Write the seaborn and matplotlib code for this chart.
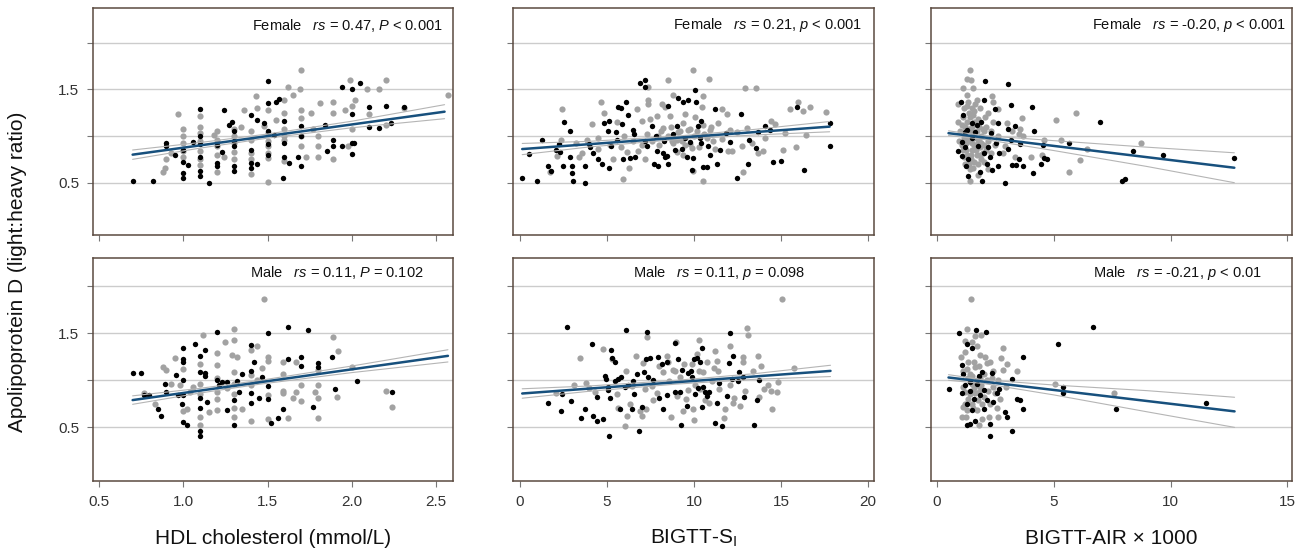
import numpy as np
import pandas as pd
import seaborn as sns
import matplotlib.pyplot as plt

sns.set_style("white")
plt.rcParams['font.family'] = ['Liberation Sans', 'DejaVu Sans']
plt.rcParams['mathtext.fontset'] = 'custom'
plt.rcParams['mathtext.rm'] = 'Liberation Sans'
plt.rcParams['mathtext.it'] = 'Liberation Sans:italic'

# ---- data: (x, ratio) pairs, black and grey groups ----
hdl_f_blk = [(0.70, 0.52), (0.82, 0.52), (0.90, 0.93), (0.90, 0.89), (0.95, 0.80), (1.0, 0.60), (1.0, 0.55),
             (1.0, 0.72), (1.03, 0.69), (1.06, 0.94), (1.1, 1.29), (1.1, 0.91), (1.1, 0.78), (1.1, 0.62),
             (1.1, 0.57), (1.15, 0.50), (1.2, 0.71), (1.2, 0.68), (1.24, 1.28), (1.23, 0.83), (1.27, 1.12),
             (1.29, 1.15), (1.3, 0.89), (1.3, 0.68), (1.3, 0.63), (1.4, 1.22), (1.4, 0.71), (1.4, 0.66),
             (1.44, 1.17), (1.44, 0.70), (1.48, 1.14), (1.5, 1.59), (1.5, 1.35), (1.5, 0.91), (1.54, 1.01),
             (1.55, 1.36), (1.57, 1.40), (1.59, 0.55), (1.6, 0.78), (1.6, 1.16), (1.63, 0.71), (1.68, 0.78),
             (1.7, 0.68), (1.7, 1.11), (1.84, 1.12), (1.85, 0.84), (1.89, 0.96), (1.89, 0.89), (1.94, 1.52),
             (1.94, 0.89), (2.0, 1.50), (2.0, 1.23), (2.0, 0.93), (2.0, 0.81), (2.01, 0.92), (2.05, 1.57),
             (2.1, 1.31), (2.1, 1.10), (2.16, 1.09), (2.2, 1.32), (2.23, 1.14), (2.31, 1.31), (1.2, 0.90),
             (1.3, 0.95), (1.4, 0.85), (1.5, 1.05), (1.6, 0.92), (1.1, 1.0), (1.0, 0.85), (1.7, 1.0),
             (1.3, 1.05), (1.5, 0.80)]
hdl_f_gry = [(0.97, 1.23), (0.88, 0.61), (0.89, 0.66), (0.9, 0.75), (0.93, 0.82), (1.0, 1.07), (1.0, 0.93),
             (1.0, 0.84), (1.0, 0.78), (1.1, 1.21), (1.1, 1.10), (1.1, 1.03), (1.1, 0.84), (1.1, 0.75),
             (1.1, 0.69), (1.18, 1.01), (1.2, 0.96), (1.2, 0.89), (1.2, 0.61), (1.24, 0.78), (1.3, 1.07),
             (1.3, 1.0), (1.3, 0.83), (1.34, 1.10), (1.36, 1.28), (1.4, 0.96), (1.4, 0.82), (1.4, 0.59),
             (1.43, 1.43), (1.44, 1.30), (1.48, 1.11), (1.5, 1.28), (1.5, 1.03), (1.5, 0.89), (1.5, 0.82),
             (1.5, 0.76), (1.5, 0.51), (1.55, 1.17), (1.6, 1.39), (1.6, 1.25), (1.6, 1.07), (1.6, 0.96),
             (1.6, 0.73), (1.62, 1.52), (1.65, 1.44), (1.69, 1.50), (1.7, 1.71), (1.7, 1.28), (1.7, 1.19),
             (1.7, 1.0), (1.7, 0.89), (1.73, 0.78), (1.76, 1.25), (1.77, 1.07), (1.8, 1.0), (1.8, 0.89),
             (1.81, 1.35), (1.89, 1.36), (1.89, 1.25), (1.89, 0.75), (1.96, 1.28), (1.99, 1.60), (2.0, 1.32),
             (2.0, 1.08), (1.98, 0.89), (2.09, 1.50), (2.1, 1.23), (2.16, 1.50), (2.2, 1.60), (2.2, 1.12),
             (2.31, 1.30), (2.57, 1.44), (1.8, 0.78), (2.02, 1.39), (1.2, 1.05), (1.3, 0.92), (1.4, 1.05),
             (1.5, 0.95), (1.6, 1.0), (1.1, 0.95), (1.0, 1.0), (1.4, 0.75), (1.3, 0.75), (1.2, 0.80)]

hdl_m_blk = [(0.70, 1.08), (0.75, 1.08), (0.77, 0.84), (0.8, 0.84), (0.85, 0.70), (0.87, 0.62), (0.89, 0.96),
             (0.9, 0.88), (0.96, 1.06), (0.97, 0.84), (0.99, 0.75), (1.0, 1.34), (1.0, 1.23), (1.0, 1.19),
             (1.0, 1.0), (1.0, 0.84), (1.0, 0.56), (1.02, 0.52), (1.07, 1.39), (1.1, 1.26), (1.1, 1.09),
             (1.1, 0.81), (1.1, 0.71), (1.1, 0.46), (1.1, 0.41), (1.13, 1.32), (1.13, 1.08), (1.13, 1.05),
             (1.14, 0.77), (1.2, 1.51), (1.2, 1.0), (1.21, 0.95), (1.23, 0.98), (1.26, 0.68), (1.26, 0.98),
             (1.3, 0.79), (1.3, 0.53), (1.32, 0.99), (1.33, 0.88), (1.35, 1.07), (1.4, 1.38), (1.4, 1.10),
             (1.4, 0.87), (1.4, 0.76), (1.42, 1.20), (1.45, 0.81), (1.47, 1.04), (1.5, 1.50), (1.5, 0.94),
             (1.5, 0.80), (1.52, 0.55), (1.56, 0.60), (1.59, 0.69), (1.62, 1.57), (1.62, 1.23), (1.7, 1.25),
             (1.7, 1.15), (1.74, 1.54), (1.77, 0.72), (1.8, 1.18), (1.8, 1.14), (1.88, 1.25), (1.9, 0.91),
             (2.03, 0.99), (2.24, 0.88)]
hdl_m_gry = [(0.77, 0.86), (0.83, 0.75), (0.88, 1.14), (0.9, 1.11), (0.93, 0.96), (0.95, 1.24), (0.98, 0.95),
             (1.0, 1.12), (1.0, 0.67), (1.02, 0.69), (1.04, 0.88), (1.06, 0.93), (1.12, 1.48), (1.1, 1.17),
             (1.1, 0.96), (1.1, 0.61), (1.1, 0.52), (1.15, 0.66), (1.2, 1.29), (1.2, 1.16), (1.2, 0.88),
             (1.2, 0.80), (1.2, 0.68), (1.25, 1.41), (1.26, 0.92), (1.29, 1.27), (1.3, 1.55), (1.3, 1.43),
             (1.3, 1.09), (1.3, 0.96), (1.3, 0.71), (1.3, 0.61), (1.32, 1.25), (1.35, 0.70), (1.4, 1.32),
             (1.4, 1.06), (1.4, 0.57), (1.44, 1.36), (1.44, 1.0), (1.47, 1.13), (1.48, 1.86), (1.5, 1.25),
             (1.5, 1.21), (1.5, 0.84), (1.5, 0.59), (1.59, 1.20), (1.59, 1.07), (1.59, 0.89), (1.59, 0.86),
             (1.62, 0.60), (1.65, 0.81), (1.67, 1.20), (1.67, 0.88), (1.7, 0.95), (1.7, 0.78), (1.78, 0.88),
             (1.8, 0.95), (1.8, 0.81), (1.8, 0.60), (1.8, 1.11), (1.89, 1.46), (1.91, 0.82), (1.92, 1.31),
             (2.0, 1.14), (2.2, 0.89), (2.24, 0.72), (1.2, 1.02), (1.3, 0.85), (1.4, 0.95), (1.1, 0.85)]

si_f_blk = [(0.13, 0.55), (1.0, 0.52), (1.28, 0.96), (0.52, 0.81), (1.59, 0.68), (1.76, 0.62), (2.05, 0.85),
            (2.24, 0.91), (2.3, 0.83), (2.49, 0.68), (2.53, 1.15), (2.87, 1.05), (2.87, 0.78), (2.97, 0.68),
            (3.0, 0.60), (3.07, 0.52), (3.74, 0.50), (3.74, 0.68), (3.97, 0.91), (4.02, 0.88), (4.21, 0.82),
            (4.46, 0.75), (4.69, 0.70), (4.83, 1.14), (5.04, 1.05), (5.13, 1.16), (5.13, 0.66), (5.23, 0.89),
            (5.52, 1.04), (5.56, 0.96), (5.65, 1.31), (5.79, 1.30), (5.84, 1.13), (5.94, 0.75), (6.09, 1.36),
            (6.23, 1.22), (6.32, 0.76), (6.51, 1.06), (6.55, 1.02), (6.61, 0.78), (6.9, 1.57), (7.18, 1.60),
            (7.18, 1.52), (7.18, 0.95), (7.28, 0.89), (7.57, 1.11), (7.72, 0.70), (7.85, 0.84), (7.95, 0.68),
            (8.24, 0.82), (8.33, 0.77), (8.43, 0.79), (8.52, 0.70), (8.52, 1.32), (8.81, 1.02), (9.0, 1.11),
            (9.1, 1.41), (9.29, 0.86), (9.35, 1.36), (9.48, 0.98), (9.67, 1.39), (9.77, 0.94), (9.87, 0.64),
            (9.96, 0.76), (10.06, 1.49), (10.1, 1.36), (10.25, 1.11), (10.34, 0.98), (10.38, 1.16),
            (10.5, 0.67), (10.73, 0.67), (10.82, 0.89), (10.92, 0.80), (11.2, 1.29), (11.3, 0.70),
            (11.84, 1.03), (12.07, 0.94), (12.45, 0.55), (12.7, 1.23), (13.08, 0.70), (13.18, 0.96),
            (13.56, 0.87), (13.7, 1.04), (14.08, 1.11), (14.37, 1.06), (14.56, 0.72), (15.0, 0.73),
            (15.9, 1.31), (16.32, 0.64), (17.8, 1.14), (17.8, 0.89), (8.9, 0.85), (9.6, 0.78), (10.4, 0.92),
            (7.8, 1.0), (8.3, 0.95), (11.5, 0.85)]
si_f_gry = [(1.72, 0.61), (2.43, 1.29), (2.34, 0.96), (2.11, 0.79), (3.41, 0.78), (3.54, 0.82), (3.83, 0.96),
            (4.12, 1.13), (4.5, 0.86), (4.63, 1.36), (4.85, 1.25), (5.17, 0.90), (5.36, 0.75), (5.56, 1.15),
            (5.94, 0.54), (6.13, 0.83), (6.28, 0.66), (6.7, 1.29), (6.8, 0.84), (6.99, 1.16), (7.18, 0.75),
            (7.38, 1.52), (7.38, 1.38), (7.38, 1.34), (7.47, 1.18), (7.85, 1.21), (7.95, 1.0), (8.14, 1.34),
            (8.24, 1.09), (8.33, 1.31), (8.52, 1.60), (8.62, 1.21), (8.72, 0.95), (8.81, 1.44), (9.0, 0.83),
            (9.1, 1.04), (9.39, 1.14), (9.48, 1.24), (9.67, 1.06), (9.77, 0.91), (9.92, 1.71), (9.92, 0.62),
            (10.06, 1.20), (10.15, 1.05), (10.44, 1.31), (10.54, 1.43), (10.54, 0.52), (10.73, 0.98),
            (10.88, 1.61), (11.0, 1.10), (11.2, 0.86), (11.39, 1.14), (11.59, 1.29), (11.88, 1.24),
            (12.07, 1.06), (12.16, 0.84), (12.45, 1.04), (12.74, 0.89), (12.93, 1.51), (13.07, 1.09),
            (13.32, 0.93), (13.56, 1.51), (13.7, 0.82), (14.08, 0.98), (14.41, 1.16), (14.66, 1.13),
            (15.13, 0.85), (15.23, 1.03), (15.52, 1.29), (15.86, 0.88), (16.0, 1.36), (16.28, 1.27),
            (16.47, 1.01), (16.7, 1.31), (17.59, 1.26), (12.84, 0.61), (11.97, 0.84), (13.98, 0.84),
            (8.5, 1.0), (8.8, 0.92), (9.2, 1.05), (9.5, 0.9), (10.0, 1.0), (10.3, 0.88), (9.0, 0.96),
            (8.0, 0.9), (7.6, 0.95), (10.6, 1.02), (11.1, 0.95), (9.8, 1.08), (7.0, 0.9), (6.5, 0.95),
            (5.8, 0.88), (4.5, 0.98), (3.2, 0.92), (8.7, 1.1), (9.3, 0.95), (9.9, 0.87), (10.5, 1.12),
            (8.1, 1.05), (7.3, 1.02), (6.0, 1.0), (10.9, 1.06), (11.6, 0.97), (9.4, 0.8)]

si_m_blk = [(1.63, 0.76), (2.36, 0.67), (2.39, 0.85), (2.72, 1.57), (2.93, 0.78), (3.51, 0.60), (3.74, 0.69),
            (4.16, 1.39), (4.21, 0.62), (4.41, 0.82), (4.41, 0.57), (4.75, 0.59), (4.89, 1.05), (4.94, 1.01),
            (5.08, 0.93), (5.08, 0.90), (5.12, 0.41), (5.17, 0.81), (5.21, 1.32), (5.27, 1.24), (5.46, 1.19),
            (5.46, 0.99), (5.65, 1.01), (5.75, 0.69), (5.8, 1.03), (6.03, 0.93), (6.11, 1.53), (6.23, 0.95),
            (6.42, 0.69), (6.51, 0.99), (6.55, 0.85), (6.7, 1.07), (6.84, 0.46), (6.99, 0.72), (7.13, 1.09),
            (7.24, 1.23), (7.28, 1.51), (7.37, 1.04), (7.47, 1.24), (7.62, 1.0), (7.95, 1.25), (8.0, 0.81),
            (8.14, 1.17), (8.24, 0.69), (8.43, 1.20), (8.47, 0.84), (8.91, 1.40), (8.91, 0.88), (9.1, 1.23),
            (9.2, 0.88), (9.23, 0.53), (9.29, 1.11), (9.58, 0.73), (9.67, 1.08), (9.81, 1.10), (9.87, 1.03),
            (10.02, 1.23), (10.06, 0.85), (10.15, 1.24), (10.25, 0.92), (10.34, 1.19), (10.44, 1.34),
            (10.44, 0.72), (10.54, 0.93), (10.63, 0.88), (10.73, 0.83), (10.88, 0.88), (11.2, 0.55),
            (11.3, 0.76), (11.44, 0.97), (11.63, 0.51), (11.9, 0.83), (12.0, 1.18), (12.1, 1.50),
            (12.16, 1.01), (12.22, 1.26), (12.55, 0.99), (12.6, 1.09), (12.8, 1.03), (12.9, 0.82),
            (13.47, 0.53), (13.6, 0.79), (13.75, 1.0)]
si_m_gry = [(2.05, 0.86), (3.12, 0.95), (3.45, 1.24), (3.79, 0.97), (3.97, 0.92), (4.31, 0.88), (4.79, 1.33),
            (5.27, 1.23), (5.56, 0.85), (5.65, 0.71), (6.03, 0.51), (6.09, 1.10), (6.13, 0.62), (6.32, 0.75),
            (6.42, 0.94), (6.67, 1.26), (6.9, 0.67), (6.99, 0.62), (7.05, 1.18), (7.18, 0.91), (7.24, 0.69),
            (7.28, 1.46), (7.57, 0.94), (7.66, 0.79), (7.85, 0.86), (8.0, 1.15), (8.2, 1.09), (8.43, 1.26),
            (8.52, 1.19), (8.58, 0.99), (8.68, 0.61), (8.77, 1.11), (8.91, 1.10), (8.97, 1.41), (9.0, 0.83),
            (9.2, 1.04), (9.35, 0.67), (9.43, 1.17), (9.54, 0.80), (9.67, 0.90), (9.87, 1.17), (9.96, 0.70),
            (10.0, 0.58), (10.06, 0.95), (10.15, 1.28), (10.31, 1.43), (10.31, 1.10), (10.34, 0.91),
            (10.5, 1.09), (10.63, 0.79), (10.73, 1.20), (10.88, 0.76), (11.02, 0.99), (11.15, 1.13),
            (11.2, 1.31), (11.3, 1.21), (11.39, 1.10), (11.44, 0.91), (11.72, 0.60), (11.78, 0.69),
            (12.07, 1.36), (12.1, 0.95), (12.22, 0.76), (12.3, 0.81), (12.64, 0.73), (12.8, 1.25),
            (12.8, 1.20), (12.93, 0.89), (13.03, 1.56), (13.12, 1.48), (13.41, 1.10), (13.7, 1.26),
            (13.75, 0.82), (13.83, 1.15), (14.02, 0.91), (14.27, 0.95), (14.42, 0.89), (14.5, 0.69),
            (14.75, 0.88), (14.85, 0.98), (15.04, 1.86), (15.75, 1.13)]

air_f_blk = [(2.06, 1.59), (3.03, 1.56), (1.01, 1.36), (1.99, 1.39), (3.17, 1.33), (4.06, 1.31), (2.46, 1.29),
             (1.09, 1.22), (6.96, 1.15), (2.6, 1.14), (3.34, 1.11), (4.17, 1.05), (2.31, 1.03), (3.03, 1.08),
             (3.17, 0.96), (3.56, 0.91), (4.53, 0.90), (5.66, 0.93), (2.53, 0.93), (2.66, 0.82), (3.03, 0.86),
             (1.06, 0.94), (0.91, 0.84), (1.06, 0.79), (1.24, 0.68), (1.34, 0.57), (1.91, 0.52), (1.84, 0.61),
             (2.13, 0.70), (2.34, 0.64), (2.63, 0.68), (2.89, 0.50), (3.23, 0.69), (3.37, 0.69), (3.51, 0.75),
             (3.67, 0.68), (4.09, 0.60), (4.46, 0.70), (4.6, 0.76), (4.7, 0.75), (7.91, 0.52), (8.06, 0.54),
             (8.41, 0.84), (9.66, 0.80), (12.73, 0.76), (1.63, 1.04), (1.77, 0.89), (1.49, 1.14), (1.99, 0.82),
             (2.27, 0.77), (1.2, 1.04), (1.34, 0.75), (1.3, 1.06), (1.5, 0.98), (1.7, 1.12), (1.2, 0.88),
             (1.9, 1.15), (2.2, 0.88)]
air_f_gry = [(1.41, 1.71), (1.27, 1.61), (1.44, 1.60), (1.13, 1.51), (1.53, 1.51), (1.27, 1.44), (0.91, 1.34),
             (1.34, 1.36), (1.63, 1.34), (1.84, 1.30), (2.34, 1.43), (2.41, 1.36), (2.63, 1.29), (2.99, 1.14),
             (3.63, 1.19), (3.2, 1.05), (3.56, 1.08), (3.53, 1.02), (3.7, 1.0), (2.91, 0.89), (2.84, 0.82),
             (3.34, 0.77), (4.03, 0.78), (4.56, 0.96), (4.51, 0.80), (5.1, 1.17), (5.3, 0.96), (5.63, 0.61),
             (5.96, 1.25), (6.1, 0.74), (6.41, 0.86), (8.74, 0.93), (1.41, 0.52), (1.77, 0.58), (2.2, 0.65),
             (1.1, 1.2), (1.3, 1.15), (1.5, 1.1), (1.7, 1.05), (1.9, 1.0), (1.2, 1.0), (1.4, 0.95), (1.6, 0.9),
             (1.8, 0.95), (2.0, 0.9), (1.1, 0.85), (1.3, 0.8), (1.5, 0.85), (1.7, 0.8), (1.9, 0.75), (1.2, 0.7),
             (1.4, 0.65), (1.6, 0.72), (2.1, 1.1), (1.0, 1.05), (1.35, 1.25), (1.55, 1.22), (1.75, 1.18),
             (1.45, 1.05), (1.65, 0.98), (1.25, 0.92), (1.85, 0.88), (2.2, 0.95), (2.3, 1.05), (1.15, 0.78),
             (0.95, 0.95), (1.05, 1.12), (2.05, 1.2), (1.95, 0.82), (1.45, 0.75), (1.3, 1.32), (1.6, 1.27),
             (2.5, 0.9), (2.6, 1.0), (0.9, 1.15), (1.55, 1.0), (1.75, 0.92), (1.35, 1.08), (1.15, 0.98),
             (1.95, 1.08), (1.2, 1.1), (1.4, 1.2), (1.6, 1.15), (1.8, 1.1), (2.0, 1.05), (1.3, 0.98),
             (1.5, 0.92), (1.7, 0.88), (1.9, 0.92), (2.1, 0.85), (1.25, 0.85), (1.45, 0.8), (1.65, 0.85),
             (1.85, 0.8), (1.05, 0.9), (1.15, 1.3), (1.5, 1.3), (1.7, 1.38), (2.2, 1.25), (2.4, 1.15),
             (1.35, 0.7), (1.55, 0.66), (1.75, 0.7), (2.0, 0.72), (2.3, 0.82)]

air_m_blk = [(0.49, 0.91), (0.96, 1.50), (1.66, 1.54), (2.1, 1.51), (1.27, 1.39), (1.49, 1.34), (3.7, 1.25),
             (5.17, 1.39), (6.66, 1.57), (1.06, 0.86), (1.06, 1.16), (1.13, 1.07), (1.27, 0.75), (1.27, 0.53),
             (1.41, 0.54), (1.49, 0.68), (1.63, 0.57), (1.7, 0.96), (1.91, 1.09), (2.13, 0.79), (2.27, 0.41),
             (2.27, 0.54), (2.34, 1.08), (2.41, 0.77), (2.56, 0.86), (2.67, 0.91), (2.91, 0.66), (2.99, 0.61),
             (3.2, 1.01), (3.2, 0.46), (3.41, 0.80), (3.56, 0.79), (3.7, 0.69), (5.41, 0.93), (5.41, 0.86),
             (7.67, 0.69), (11.53, 0.76), (1.41, 0.89), (1.84, 0.84), (1.99, 0.70), (1.4, 0.98), (1.6, 0.8),
             (1.8, 1.05), (2.0, 0.9), (1.2, 0.95)]
air_m_gry = [(1.46, 1.86), (1.27, 1.55), (1.63, 1.47), (1.89, 1.48), (1.2, 1.42), (1.49, 1.41), (1.73, 1.36),
             (2.84, 1.34), (2.74, 1.24), (2.99, 1.17), (2.84, 1.11), (3.41, 1.10), (1.03, 1.25), (1.2, 1.30),
             (1.84, 1.27), (2.06, 1.25), (2.27, 1.19), (5.03, 0.96), (7.56, 0.86), (1.06, 0.61), (1.24, 0.61),
             (1.79, 0.52), (1.91, 0.59), (2.24, 0.61), (2.63, 0.61), (2.96, 0.93), (1.34, 1.02), (1.49, 0.96),
             (1.63, 0.86), (1.77, 0.79), (1.56, 0.71), (1.34, 0.80), (1.84, 0.93), (2.13, 1.0), (2.2, 0.89),
             (2.41, 0.93), (2.56, 0.71), (1.99, 1.07), (1.63, 1.14), (1.34, 1.20), (2.13, 1.18), (2.34, 1.02),
             (2.7, 0.80), (1.13, 0.93), (1.2, 0.75), (1.7, 0.68), (1.91, 0.75), (2.27, 0.75), (2.49, 0.86),
             (1.41, 1.07), (1.84, 1.02), (1.1, 1.1), (1.3, 1.12), (1.5, 1.05), (1.7, 1.0), (1.9, 0.95),
             (1.2, 0.88), (1.4, 0.85), (1.6, 0.92), (1.8, 0.88), (2.0, 0.82), (1.5, 0.75), (1.3, 0.68),
             (1.6, 1.2), (1.8, 1.15), (2.4, 1.1), (2.6, 1.0), (1.1, 0.72)]

# fitted lines (end points) and 95% CI curves
fit_x = {"hdl_f": [0.70, 2.55], "si_f": [0.13, 17.8], "air_f": [0.49, 12.73],
         "hdl_m": [0.70, 2.57], "si_m": [0.13, 17.85], "air_m": [0.49, 12.74]}
fit_y = {"hdl_f": [0.80, 1.26], "si_f": [0.86, 1.10], "air_f": [1.03, 0.66],
         "hdl_m": [0.79, 1.26], "si_m": [0.86, 1.10], "air_m": [1.03, 0.67]}
ci_x = {"hdl_f": [0.70, 1.1, 1.5, 2.0, 2.55], "si_f": [0.13, 4, 9, 13.5, 17.8],
        "air_f": [0.49, 2, 5, 9, 12.73], "hdl_m": [0.70, 1.1, 1.45, 2.0, 2.57],
        "si_m": [0.13, 4, 9, 13.5, 17.85], "air_m": [0.49, 2, 5, 9, 12.74]}
ci_lo = {"hdl_f": [0.75, 0.87, 0.977, 1.088, 1.185], "si_f": [0.80, 0.883, 0.962, 1.011, 1.045],
         "air_f": [1.005, 0.964, 0.844, 0.673, 0.50], "hdl_m": [0.745, 0.865, 0.958, 1.082, 1.195],
         "si_m": [0.81, 0.884, 0.96, 1.011, 1.04], "air_m": [1.0, 0.966, 0.845, 0.665, 0.50]}
ci_hi = {"hdl_f": [0.85, 0.93, 1.021, 1.158, 1.335], "si_f": [0.92, 0.943, 0.998, 1.071, 1.155],
         "air_f": [1.055, 1.004, 0.95, 0.88, 0.82], "hdl_m": [0.835, 0.915, 0.998, 1.152, 1.325],
         "si_m": [0.91, 0.94, 1.0, 1.071, 1.16], "air_m": [1.06, 1.006, 0.95, 0.89, 0.82]}

labels = {"hdl_f": r"Female   $\it{rs}$ = 0.47, $\it{P}$ < 0.001",
          "si_f": r"Female   $\it{rs}$ = 0.21, $\it{p}$ < 0.001",
          "air_f": r"Female   $\it{rs}$ = -0.20, $\it{p}$ < 0.001",
          "hdl_m": r"Male   $\it{rs}$ = 0.11, $\it{P}$ = 0.102",
          "si_m": r"Male   $\it{rs}$ = 0.11, $\it{p}$ = 0.098",
          "air_m": r"Male   $\it{rs}$ = -0.21, $\it{p}$ < 0.01"}
label_x = {"hdl_f": 0.972, "si_f": 0.967, "air_f": 0.983, "hdl_m": 0.919, "si_m": 0.81, "air_m": 0.917}

x_titles = ["HDL cholesterol (mmol/L)", "BIGTT-S$_\\mathrm{I}$", "BIGTT-AIR \u00d7 1000"]
x_ticks = [[0.5, 1.0, 1.5, 2.0, 2.5], [0, 5, 10, 15, 20], [0, 5, 10, 15]]
x_ticklabels = [["0.5", "1.0", "1.5", "2.0", "2.5"], ["0", "5", "10", "15", "20"], ["0", "5", "10", "15"]]
x_lims = [(0.465, 2.6), (-0.4, 20.35), (-0.26, 15.2)]

points = {"hdl_f": (hdl_f_blk, hdl_f_gry), "si_f": (si_f_blk, si_f_gry), "air_f": (air_f_blk, air_f_gry),
          "hdl_m": (hdl_m_blk, hdl_m_gry), "si_m": (si_m_blk, si_m_gry), "air_m": (air_m_blk, air_m_gry)}
grid_keys = [["hdl_f", "si_f", "air_f"], ["hdl_m", "si_m", "air_m"]]

W, H = 1311, 556
fig = plt.figure(figsize=(W / 100, H / 100), dpi=100)
col_px = [(93, 453), (513, 874), (931, 1292)]
row_px = [(8, 235), (258, 481)]
row_ylim = [(-0.06, 2.37), (-0.07, 2.30)]
label_y = [0.925, 0.933]
frame = "#5b4a40"

for r in range(2):
    for c in range(3):
        key = grid_keys[r][c]
        x0, x1 = col_px[c]
        y0, y1 = row_px[r]
        ax = fig.add_axes([x0 / W, 1 - y1 / H, (x1 - x0) / W, (y1 - y0) / H])
        ax.set_xlim(*x_lims[c])
        ax.set_ylim(*row_ylim[r])
        for yv in [0.5, 1.0, 1.5, 2.0]:
            ax.axhline(yv, color="#cccccc", lw=1.0, zorder=0)

        blk, gry = points[key]
        df = pd.DataFrame(gry + blk, columns=["x", "y"])
        df["grp"] = ["grey"] * len(gry) + ["black"] * len(blk)
        sns.scatterplot(data=df[df.grp == "grey"], x="x", y="y", color="#a2a2a2", s=20,
                        linewidth=0, ax=ax, zorder=2)
        sns.scatterplot(data=df[df.grp == "black"], x="x", y="y", color="#000000", s=15,
                        linewidth=0, ax=ax, zorder=3)

        sns.lineplot(x=ci_x[key], y=ci_lo[key], color="#b5b5b5", lw=0.8, ax=ax, zorder=4)
        sns.lineplot(x=ci_x[key], y=ci_hi[key], color="#b5b5b5", lw=0.8, ax=ax, zorder=4)
        sns.lineplot(x=fit_x[key], y=fit_y[key], color="#17507d", lw=1.8, ax=ax, zorder=5)

        ax.text(label_x[key], label_y[r], labels[key], transform=ax.transAxes,
                ha="right", va="center", fontsize=10.5, color="#111111")

        ax.set_yticks([0.5, 1.0, 1.5, 2.0])
        if c == 0:
            ax.set_yticklabels(["0.5", "", "1.5", ""])
        else:
            ax.set_yticklabels([])
        ax.set_xticks(x_ticks[c])
        if r == 1:
            ax.set_xticklabels(x_ticklabels[c])
        else:
            ax.set_xticklabels([])
        ax.tick_params(axis="both", direction="out", length=4, width=0.8, color="#777777",
                       labelsize=11, labelcolor="#333333", pad=6, left=True, bottom=True)
        ax.set_xlabel("")
        ax.set_ylabel("")
        for sp in ax.spines.values():
            sp.set_color(frame)
            sp.set_linewidth(1.1)

for c, t in enumerate(x_titles):
    xc = (col_px[c][0] + col_px[c][1]) / 2 / W
    fig.text(xc, 1 - 538 / H, t, ha="center", va="center", fontsize=15, color="#111111")

fig.text(18 / W, 1 - 272 / H, "Apolipoprotein D (light:heavy ratio)", rotation=90,
         ha="center", va="center", fontsize=15, color="#111111")

fig.savefig("out.png", dpi=100)
